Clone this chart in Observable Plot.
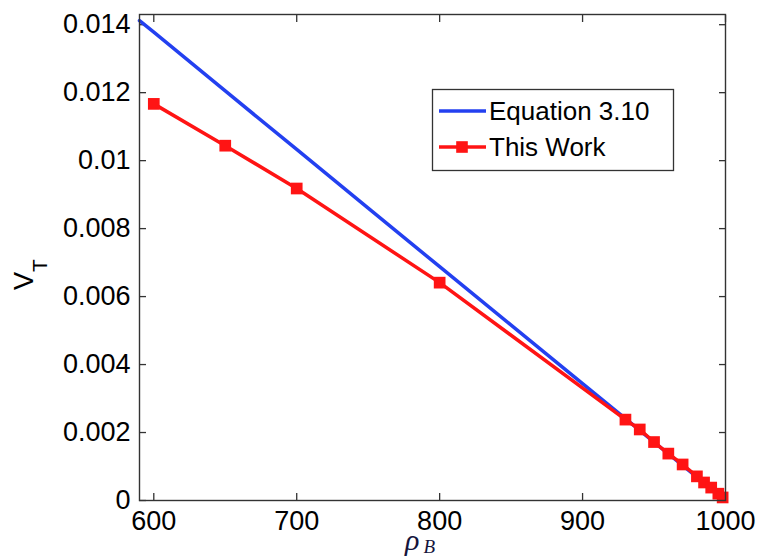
<!DOCTYPE html>
<html><head><meta charset="utf-8">
<script src="https://cdn.jsdelivr.net/npm/d3@7"></script>
<script src="https://cdn.jsdelivr.net/npm/@observablehq/plot@0.6"></script>
<style>html,body{margin:0;padding:0;background:#fff} #chart svg{display:block}</style>
</head><body><div id="chart"></div>
<script>
// Series: Equation 3.10 (blue)
const rhoEq = [590, 600, 650, 700, 750, 800, 850, 900, 930, 950, 970, 990, 1000];
const vEq   = [0.01412, 0.01378, 0.01205, 0.01033, 0.0086, 0.00688, 0.00516, 0.00344, 0.00241, 0.00172, 0.00103, 0.00034, 0];
// Series: This Work (red, square markers)
const rhoWork = [600, 650, 700, 800, 930, 940, 950, 960, 970, 980, 985, 990, 995, 998];
const vWork   = [0.01167, 0.01044, 0.00918, 0.00641, 0.00238, 0.00209, 0.00172, 0.00138, 0.00106, 0.00071, 0.00053, 0.00038, 0.0002, 0.00009];
const seriesNames = ["Equation 3.10", "This Work"];
const seriesColors = ["#2340f0", "#ff1414"];
const xTicks = [600, 700, 800, 900, 1000];
const yTicks = [0, 0.002, 0.004, 0.006, 0.008, 0.01, 0.012, 0.014];
const yTickLabels = ["0", "0.002", "0.004", "0.006", "0.008", "0.01", "0.012", "0.014"];

const eq = rhoEq.map((r, i) => ({rho: r, v: vEq[i]}));
const work = rhoWork.map((r, i) => ({rho: r, v: vWork[i]}));

const W = 761, H = 559, mL = 139, mR = 36, mT = 14, mB = 59;
const font = "'Liberation Sans', Arial, Helvetica, sans-serif";
const blank = () => "";
const tk = {tickSize: 7, tickFormat: blank, label: null, stroke: "#333", strokeWidth: 1.3};

const svg = Plot.plot({
  width: W, height: H,
  marginLeft: mL, marginRight: mR, marginTop: mT, marginBottom: mB,
  style: {fontFamily: font, fontSize: "26px", color: "#000", background: "#fff", overflow: "visible"},
  x: {domain: [590, 1000]},
  y: {domain: [0, 0.0143]},
  marks: [
    Plot.axisX(xTicks, {anchor: "bottom", tickSize: 0, tickPadding: 10, label: null, fontSize: 27, fill: "#000",
      tickFormat: d => String(d)}),
    Plot.axisX(xTicks, {anchor: "bottom", dy: -7, ...tk}),
    Plot.axisX(xTicks, {anchor: "top", dy: 7, ...tk}),
    Plot.axisY(yTicks, {anchor: "left", tickSize: 0, tickPadding: 9, label: null, fontSize: 27, fill: "#000",
      tickFormat: d => yTickLabels[yTicks.indexOf(d)]}),
    Plot.axisY(yTicks, {anchor: "left", dx: 7, ...tk}),
    Plot.axisY(yTicks, {anchor: "right", dx: -7, ...tk}),
    Plot.line(eq, {x: "rho", y: "v", stroke: seriesColors[0], strokeWidth: 3.5}),
    Plot.line(work, {x: "rho", y: "v", stroke: seriesColors[1], strokeWidth: 3.5}),
    Plot.dot(work, {x: "rho", y: "v", symbol: "square", fill: seriesColors[1], r: 6.6}),
    Plot.frame({stroke: "#333", strokeWidth: 1.4})
  ]
});
document.getElementById("chart").appendChild(svg);

const s = d3.select(svg);
// y-axis label V_T
const yl = s.append("text")
  .attr("transform", "translate(33,290) rotate(-90)")
  .attr("text-anchor", "start")
  .attr("font-family", font).attr("font-size", 27).attr("fill", "#000");
yl.append("tspan").text("V");
yl.append("tspan").attr("font-size", 21).attr("dy", 14).text("T");

// x-axis label rho_B
const xl = s.append("text")
  .attr("x", 405).attr("y", 550)
  .attr("text-anchor", "start")
  .attr("font-family", "'Liberation Serif', 'DejaVu Serif', serif")
  .attr("font-style", "italic").attr("font-size", 30).attr("fill", "#14143c");
xl.append("tspan").text("ρ");
xl.append("tspan").attr("font-size", 19).attr("dx", 4).attr("dy", 3).text("B");

// Legend
const lg = s.append("g").attr("text-anchor", "start");
lg.append("rect").attr("x", 432.5).attr("y", 89.5).attr("width", 241).attr("height", 81)
  .attr("fill", "#fff").attr("stroke", "#333").attr("stroke-width", 1.3);
const rowsY = [111, 147];
seriesNames.forEach((name, i) => {
  lg.append("line").attr("x1", 439).attr("x2", 486).attr("y1", rowsY[i]).attr("y2", rowsY[i])
    .attr("stroke", seriesColors[i]).attr("stroke-width", 3.5);
  if (i === 1) {
    lg.append("rect").attr("x", 462 - 5.8).attr("y", rowsY[i] - 5.8).attr("width", 11.6).attr("height", 11.6)
      .attr("fill", seriesColors[i]);
  }
  lg.append("text").attr("x", 489).attr("y", rowsY[i]).attr("dy", "0.36em")
    .attr("font-family", font).attr("font-size", 26).attr("fill", "#000").text(name);
});
</script>
</body></html>
